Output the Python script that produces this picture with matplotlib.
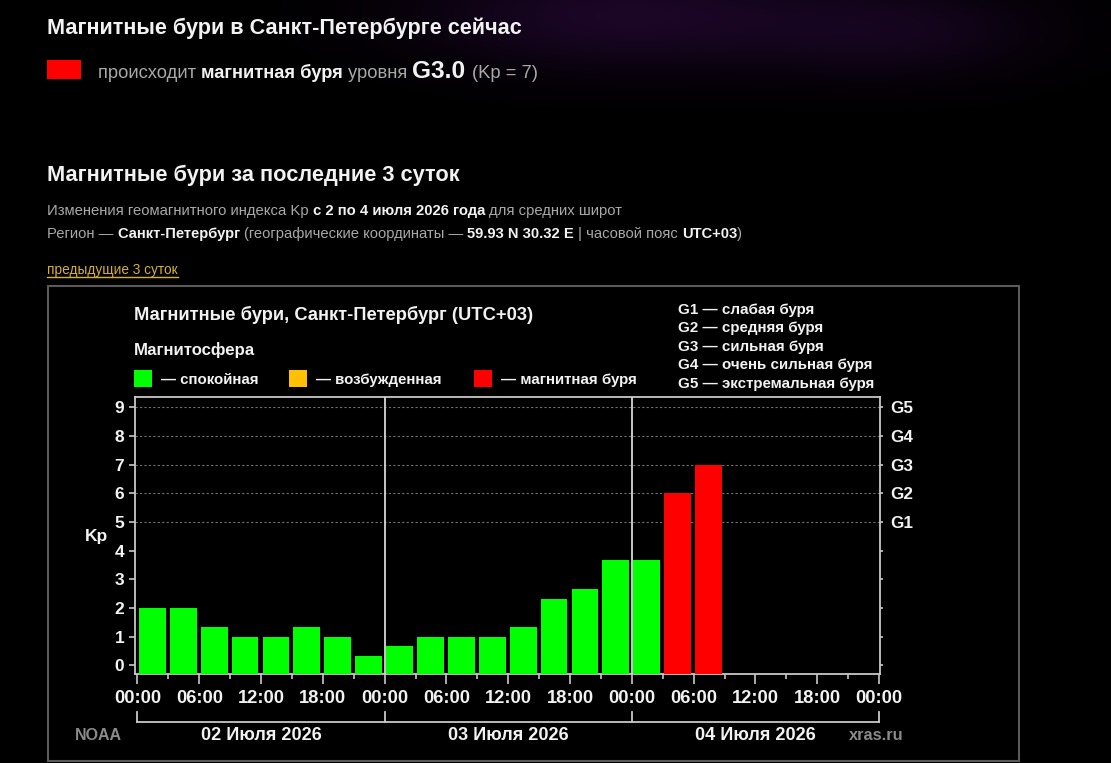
import matplotlib
matplotlib.use('Agg')
import matplotlib.pyplot as plt
from matplotlib.patches import Rectangle
from matplotlib.font_manager import FontProperties
from matplotlib.transforms import blended_transform_factory
import numpy as np

# ---------------- data ----------------
hours = list(range(0, 72, 3))
kp = [2.0, 2.0, 1.33, 1.0, 1.0, 1.33, 1.0, 0.33,
      0.67, 1.0, 1.0, 1.0, 1.33, 2.33, 2.67, 3.67,
      3.67, 6.0, 7.0, None, None, None, None, None]
x_ticks = list(range(0, 73, 6))
x_tick_labels = ['00:00', '06:00', '12:00', '18:00'] * 3 + ['00:00']
day_starts = [0, 24, 48, 72]
day_labels = ['02 Июля 2026', '03 Июля 2026', '04 Июля 2026']
kp_ticks = list(range(0, 10))
g_levels = [5, 6, 7, 8, 9]
g_labels = ['G1', 'G2', 'G3', 'G4', 'G5']
g_desc = ['слабая буря', 'средняя буря', 'сильная буря',
          'очень сильная буря', 'экстремальная буря']
state_names = ['спокойная', 'возбужденная', 'магнитная буря']
state_colors = ['#00ff00', '#ffc000', '#ff0000']

# ---------------- figure ----------------
W, H = 1111, 763
FAM = 'Liberation Sans'
WHITE = '#f2f2f2'
GRAY = '#a8a8a8'
fig = plt.figure(figsize=(W / 100, H / 100), dpi=100, facecolor='black')
bg = fig.add_axes([0, 0, 1, 1])
bg.axis('off')
bg.set_facecolor('black')
renderer = fig.canvas.get_renderer()

# faint purple nebula at the top of the page
yy, xx = np.mgrid[0:150, 0:W]
glow = (0.60 * np.exp(-(((xx - 620) / 200.0) ** 2 + ((yy - 15) / 55.0) ** 2))
        + 0.40 * np.exp(-(((xx - 900) / 150.0) ** 2 + ((yy - 30) / 50.0) ** 2)))
img = np.zeros((150, W, 4))
img[..., 0] = 0.30
img[..., 1] = 0.07
img[..., 2] = 0.42
img[..., 3] = np.clip(glow, 0, 1) * 0.6
bg.imshow(img, extent=(0, W, 150, 0), aspect='auto', zorder=0)
bg.set_xlim(0, W)
bg.set_ylim(H, 0)


def measure(s, size, weight):
    prop = FontProperties(family=FAM, size=size, weight=weight)
    w1, _, _ = renderer.get_text_width_height_descent('|' + s + '|', prop, ismath=False)
    w0, _, _ = renderer.get_text_width_height_descent('||', prop, ismath=False)
    return w1 - w0


def runs(x, y, parts, target=None):
    scale = 1.0
    if target:
        tot = sum(measure(t, s, w) for t, s, w, c in parts)
        scale = target / tot
    cx = x
    for t, s, w, c in parts:
        bg.text(cx, y, t, fontsize=s * scale, fontweight=w, color=c,
                family=FAM, va='baseline', ha='left', zorder=5)
        cx += measure(t, s * scale, w)
    return cx


# ---------------- page header ----------------
runs(47, 34.3, [('Магнитные бури в Санкт-Петербурге сейчас', 14, 'bold', WHITE)], target=475)
bg.add_patch(Rectangle((47, 59.5), 34, 19.5, facecolor='#ff0000', edgecolor='none', zorder=5))
runs(98, 77.5, [('происходит ', 12, 'normal', GRAY),
                ('магнитная буря ', 12, 'bold', WHITE),
                ('уровня ', 12, 'normal', GRAY),
                ('G3.0 ', 16, 'bold', WHITE),
                ('(Kp = 7)', 12, 'normal', GRAY)], target=440)

runs(47, 181, [('Магнитные бури за последние 3 суток', 14, 'bold', WHITE)], target=412)
runs(47, 214.5, [('Изменения геомагнитного индекса Kp ', 10, 'normal', GRAY),
                 ('с 2 по 4 июля 2026 года ', 10, 'bold', WHITE),
                 ('для средних широт', 10, 'normal', GRAY)], target=577)
runs(47, 238, [('Регион — ', 10, 'normal', GRAY),
               ('Санкт-Петербург ', 10, 'bold', WHITE),
               ('(географические координаты — ', 10, 'normal', GRAY),
               ('59.93 N 30.32 E ', 10, 'bold', WHITE),
               ('| часовой пояс ', 10, 'normal', GRAY),
               ('UTC+03', 10, 'bold', WHITE),
               (')', 10, 'normal', GRAY)], target=700)
end = runs(47, 274, [('предыдущие 3 суток', 9, 'normal', '#d8b030')], target=130)
bg.plot([47, end], [276.8, 276.8], color='#d8b030', lw=1.0, zorder=5)

# chart container box
bg.add_patch(Rectangle((47.5, 285.5), 971, 475, facecolor='none', edgecolor='#5a5a5a', lw=1.5, zorder=4))

# chart title and legend
runs(134.3, 320, [('Магнитные бури, Санкт-Петербург (UTC+03)', 12, 'bold', WHITE)], target=397)
runs(134.3, 355, [('Магнитосфера', 12, 'bold', WHITE)], target=121)
leg_sq_x = [134.3, 289.3, 474]
leg_txt_w = [98, 126, 137]
for sx, name, col, tw in zip(leg_sq_x, state_names, state_colors, leg_txt_w):
    bg.add_patch(Rectangle((sx, 369.5), 18, 17.5, facecolor=col, edgecolor='none', zorder=5))
    runs(sx + 27, 384, [('— ' + name, 10.5, 'bold', WHITE)], target=tw)

g_base = [314, 332.4, 350.8, 369.2, 387.6]
for yb, gl, gd in zip(g_base, g_labels, g_desc):
    runs(678.3, yb, [(gl + ' — ' + gd, 10, 'bold', WHITE)],
         target=197 * measure(gl + ' — ' + gd, 10, 'bold') / measure('G5 — экстремальная буря', 10, 'bold'))

# ---------------- chart axes ----------------
ax_l, ax_r, ax_t, ax_b = 135, 879.5, 396.5, 674
ax = fig.add_axes([ax_l / W, 1 - ax_b / H, (ax_r - ax_l) / W, (ax_b - ax_t) / H])
ax.set_facecolor('black')
Y0, Y1 = -0.30, 9.37
ax.set_xlim(-0.24, 72.05)
ax.set_ylim(Y0, Y1)


def kp_color(v):
    if v < 4:
        return state_colors[0]
    if v < 5:
        return state_colors[1]
    return state_colors[2]


for h, v in zip(hours, kp):
    if v is None:
        continue
    # bars rise from the bottom edge of the plotting area
    ax.bar(h + 1.45, v - Y0, width=2.6, bottom=Y0, color=kp_color(v),
           edgecolor='none', zorder=3)

for g in g_levels:
    ax.axhline(g, color='#707070', lw=0.8, linestyle=(0, (2.0, 2.0)), zorder=1)
for d in day_starts[1:-1]:
    ax.axvline(d, color='#d8d8d8', lw=1.3, zorder=4)

for s in ax.spines.values():
    s.set_color('#c8c8c8')
    s.set_linewidth(1.3)

ax.set_xticks(x_ticks)
ax.set_xticklabels(x_tick_labels)
ax.set_xticks(list(range(3, 72, 6)), minor=True)
ax.tick_params(axis='x', which='major', length=7, width=1.2, color='#c8c8c8',
               labelcolor=WHITE, labelsize=13.2, pad=4.5)
ax.tick_params(axis='x', which='minor', length=3.5, width=1.2, color='#c8c8c8')
for lab in ax.get_xticklabels():
    lab.set_fontweight('bold')
    lab.set_family(FAM)

ax.set_yticks(kp_ticks)
ax.set_yticklabels([str(k) for k in kp_ticks])
ax.tick_params(axis='y', which='major', left=True, length=4.5, width=1.2, color='#c8c8c8',
               labelcolor=WHITE, labelsize=12.5, pad=3.3)
for lab in ax.get_yticklabels():
    lab.set_fontweight('bold')
    lab.set_family(FAM)

ax2 = ax.twinx()
ax2.set_ylim(ax.get_ylim())
ax2.set_yticks(kp_ticks)
ax2.set_yticklabels(['' if k not in g_levels else g_labels[g_levels.index(k)] for k in kp_ticks])
ax2.tick_params(axis='y', length=2.5, width=1.2, color='#c8c8c8', labelcolor=WHITE,
                labelsize=12.3, pad=5)
for lab in ax2.get_yticklabels():
    lab.set_fontweight('bold')
    lab.set_family(FAM)
for s in ax2.spines.values():
    s.set_visible(False)

ax.set_ylabel('Kp', rotation=0, color=WHITE, fontsize=12.5, fontweight='bold', family=FAM)
ax.yaxis.set_label_coords(-0.052, 0.47)

# day bracket below the axis
tr = blended_transform_factory(ax.transData, bg.transData)
bg.plot([day_starts[0], day_starts[-1]], [721.5, 721.5], color='#c8c8c8', lw=1.3, transform=tr, zorder=5)
for d in day_starts:
    bg.plot([d, d], [711.5, 721.5], color='#c8c8c8', lw=1.3, transform=tr, zorder=5)
for i, lab in enumerate(day_labels):
    bg.text((day_starts[i] + day_starts[i + 1]) / 2, 739.5, lab, transform=tr, ha='center',
            va='baseline', color=WHITE, fontsize=13.1, fontweight='bold', family=FAM, zorder=5)

bg.text(75, 739.5, 'NOAA', color='#8a8a8a', fontsize=11.5, fontweight='bold', family=FAM,
        va='baseline', ha='left', zorder=5)
bg.text(904, 739.5, 'xras.ru', color='#8a8a8a', fontsize=11.8, fontweight='bold', family=FAM,
        va='baseline', ha='right', zorder=5)

fig.savefig('out.png', dpi=100, facecolor='black')
